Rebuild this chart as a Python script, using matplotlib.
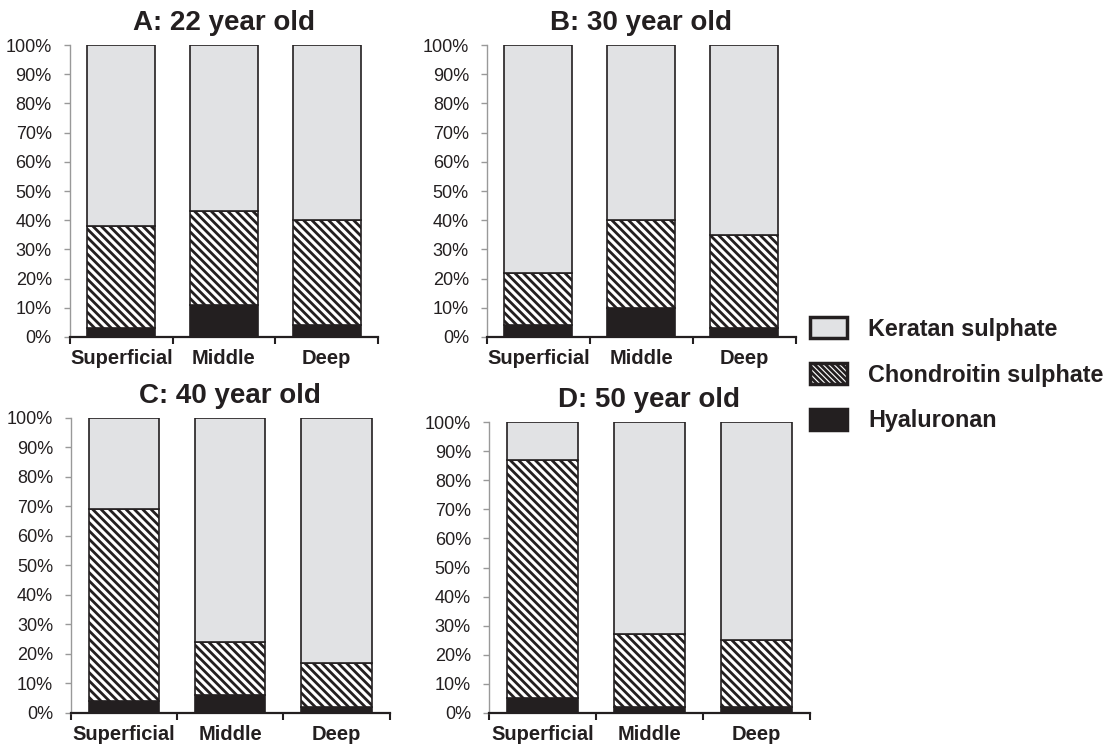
import matplotlib
matplotlib.use('Agg')
import matplotlib.pyplot as plt
from matplotlib.patches import Patch

plt.rcParams['font.family'] = ['Liberation Sans', 'DejaVu Sans']
plt.rcParams['hatch.linewidth'] = 2.0

# zones of the cartilage
layers = ['Superficial', 'Middle', 'Deep']

# percentages, one list per panel and component
ha_22 = [3, 11, 4]
cs_22 = [35, 32, 36]
ks_22 = [62, 57, 60]

ha_30 = [4, 10, 3]
cs_30 = [18, 30, 32]
ks_30 = [78, 60, 65]

ha_40 = [4, 6, 2]
cs_40 = [65, 18, 15]
ks_40 = [31, 76, 83]

ha_50 = [5, 2, 2]
cs_50 = [82, 25, 23]
ks_50 = [13, 73, 75]

titles = ['A: 22 year old', 'B: 30 year old', 'C: 40 year old', 'D: 50 year old']
yticks = [0, 10, 20, 30, 40, 50, 60, 70, 80, 90, 100]
ytick_labels = [f'{v}%' for v in yticks]

ks_color = '#e1e2e4'
ha_color = '#231f20'

panels = [
    (ha_22, cs_22, ks_22, [0.063, 0.5495, 0.2775, 0.3903]),
    (ha_30, cs_30, ks_30, [0.4387, 0.5495, 0.2784, 0.3903]),
    (ha_40, cs_40, ks_40, [0.064, 0.0468, 0.287, 0.3944]),
    (ha_50, cs_50, ks_50, [0.4405, 0.0468, 0.2892, 0.389]),
]

fig = plt.figure(figsize=(11.1, 7.48), dpi=100)

for (ha, cs, ks, pos), title in zip(panels, titles):
    ax = fig.add_axes(pos)
    x = range(len(layers))
    ax.bar(x, ha, width=0.66, color=ha_color, edgecolor='#231f20', linewidth=1.2)
    ax.bar(x, cs, width=0.66, bottom=ha, color='white', edgecolor='#231f20',
           hatch='\\\\\\\\', linewidth=1.2)
    base = [a + b for a, b in zip(ha, cs)]
    ax.bar(x, ks, width=0.66, bottom=base, color=ks_color, edgecolor='#231f20', linewidth=1.2)

    ax.set_xlim(-0.5, 2.5)
    ax.set_ylim(0, 100)
    ax.set_xticks(list(x))
    ax.set_xticklabels(layers, fontsize=14.5, fontweight='bold', color='#231f20')
    ax.set_xticks([-0.5, 0.5, 1.5, 2.5], minor=True)
    ax.tick_params(axis='x', which='major', length=0, pad=9)
    ax.tick_params(axis='x', which='minor', length=5, width=1.5, color='#231f20', direction='out')
    ax.set_yticks(yticks)
    ax.set_yticklabels(ytick_labels, fontsize=13, color='#231f20')
    ax.tick_params(axis='y', length=4, width=1.0, color='#999999', pad=9)

    for side in ['top', 'right']:
        ax.spines[side].set_visible(False)
    ax.spines['left'].set_color('#999999')
    ax.spines['left'].set_linewidth(1.0)
    ax.spines['bottom'].set_color('#231f20')
    ax.spines['bottom'].set_linewidth(1.6)

    ax.set_title(title, fontsize=20, fontweight='bold', color='#231f20', pad=11)

handles = [
    Patch(facecolor=ks_color, edgecolor='#231f20', linewidth=2.5, label='Keratan sulphate'),
    Patch(facecolor='white', edgecolor='#231f20', linewidth=2.5, hatch='\\\\\\\\\\\\',
          label='Chondroitin sulphate'),
    Patch(facecolor=ha_color, edgecolor='#231f20', linewidth=2.5, label='Hyaluronan'),
]
leg = fig.legend(handles=handles, loc='upper left', bbox_to_anchor=(0.7297, 0.5765),
                 frameon=False, borderpad=0, borderaxespad=0,
                 handlelength=1.6, handleheight=1.05, handletextpad=0.9,
                 labelspacing=0.95, prop={'size': 16.8, 'weight': 'bold'})
for t in leg.get_texts():
    t.set_color('#231f20')

plt.savefig('out.png', dpi=100)
